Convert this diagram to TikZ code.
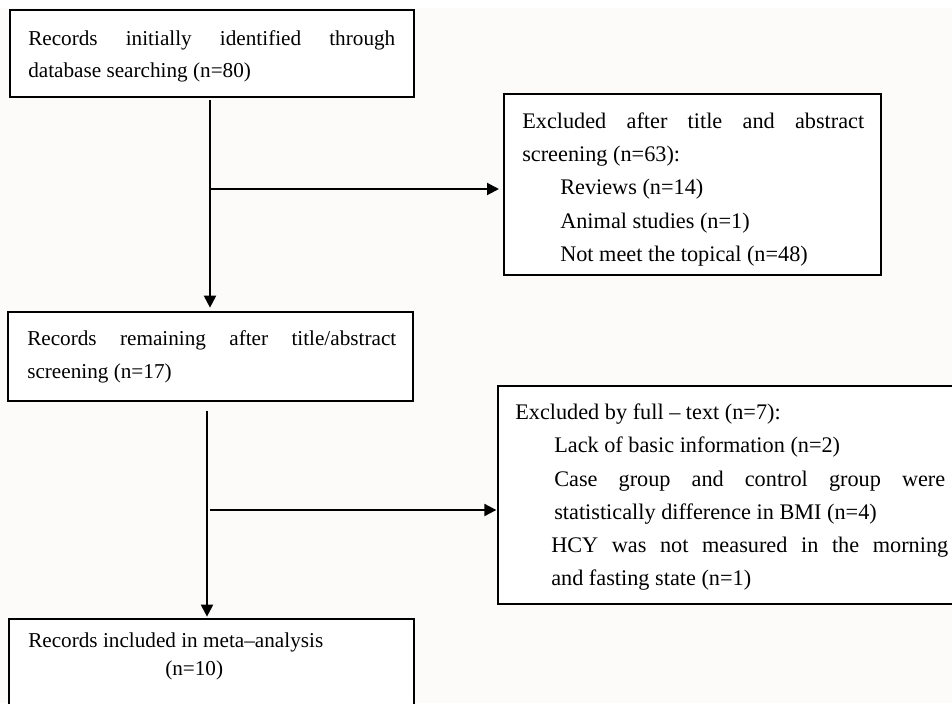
\documentclass[tikz,border=0pt]{standalone}
\usepackage{fontspec}
\setmainfont{Liberation Serif}
\usetikzlibrary{arrows.meta}
\definecolor{bgcol}{HTML}{FCFBF9}
\tikzset{
  box/.style={draw=black, line width=1.5pt, fill=white, rectangle, inner sep=0pt},
  txt/.style={anchor=base west, inner sep=0pt, font=\fontsize{16.7}{20}\selectfont},
  txtl/.style={anchor=base west, inner sep=0pt, font=\fontsize{15.9}{19}\selectfont},
  arr/.style={draw=black, line width=1.5pt, -{Triangle[length=9pt,width=9pt]}},
}
\begin{document}
\begin{tikzpicture}[x=0.75pt,y=-0.75pt]
\clip (0,0) rectangle (952,703);
\fill[bgcol] (0,0) rectangle (952,703);
\fill[white] (0,0) rectangle (952,8);
% boxes
\node[box, minimum width=303pt, minimum height=65.25pt] (b1) at (212,53.5) {};
\node[box, minimum width=282.75pt, minimum height=135.75pt] (b3) at (692.5,184.5) {};
\node[box, minimum width=303.75pt, minimum height=66.75pt] (b2) at (210.5,356.5) {};
\node[box, minimum width=348pt, minimum height=163.5pt] (b5) at (730,495) {};
\node[box, minimum width=303.75pt, minimum height=69.75pt] (b4) at (211.5,665.5) {};
% texts box 1
\node[txtl] (t1a) at (28,45) {\makebox[275.25pt][s]{Records initially identified through}};
\node[txtl] (t1b) at (28,77) {database searching (n=80)};
% texts box 3
\node[txt] (t3a) at (522,128) {\makebox[256.5pt][s]{Excluded after title and abstract}};
\node[txt] (t3b) at (522,161) {screening (n=63):};
\node[txt] (t3c) at (560,194) {Reviews (n=14)};
\node[txt] (t3d) at (560,228) {Animal studies (n=1)};
\node[txt] (t3e) at (560,261) {Not meet the topical (n=48)};
% texts box 2
\node[txtl] (t2a) at (27,345) {\makebox[276.75pt][s]{Records remaining after title/abstract}};
\node[txtl] (t2b) at (27,378) {screening (n=17)};
% texts box 5
\node[txt] (t5a) at (515,419) {Excluded by full – text (n=7):};
\node[txt] (t5b) at (554,452) {Lack of basic information (n=2)};
\node[txt] (t5c) at (554,486) {\makebox[293.25pt][s]{Case group and control group were}};
\node[txt] (t5d) at (554,519) {statistically difference in BMI (n=4)};
\node[txt] (t5e) at (551,552) {\makebox[297.75pt][s]{HCY was not measured in the morning}};
\node[txt] (t5f) at (551,585) {and fasting state (n=1)};
% texts box 4
\node[txtl] (t4a) at (28,647) {Records included in meta–analysis};
\node[txtl] (t4b) at (165,675) {(n=10)};
% connector coordinates
\coordinate (x1) at (210,0);
\coordinate (x2) at (207,0);
\coordinate (j1) at (210,189);
\coordinate (j2) at (210,510);
% connectors
\draw[arr, shorten <=1.5pt, shorten >=2.5pt] (b1.south -| x1) -- (b2.north -| x1);
\draw[arr, shorten >=3pt] (j1) -- (j1 -| b3.west);
\draw[arr, shorten <=6.5pt, shorten >=1pt] (b2.south -| x2) -- (b4.north -| x2);
\draw[arr, shorten >=0.5pt] (j2) -- (j2 -| b5.west);
\end{tikzpicture}
\end{document}
